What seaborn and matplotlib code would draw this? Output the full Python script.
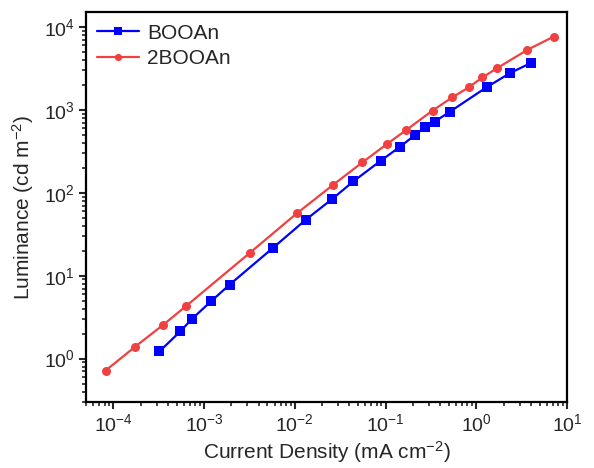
import matplotlib
matplotlib.use("Agg")
import matplotlib.pyplot as plt
import seaborn as sns
import pandas as pd
import numpy as np
from matplotlib.ticker import LogLocator, FuncFormatter, NullFormatter

boo_j = [3.22e-4, 5.5e-4, 7.3e-4, 1.19e-3, 1.91e-3, 5.8e-3, 1.33e-2, 2.6e-2, 4.42e-2,
         8.86e-2, 0.145, 0.214, 0.275, 0.349, 0.515, 1.31, 2.37, 4.0]
boo_l = [1.22, 2.14, 2.99, 4.89, 7.78, 21.8, 47.5, 84.4, 137,
         243, 359, 501, 621, 720, 950, 1877, 2775, 3660]
tboo_j = [8.2e-5, 1.75e-4, 3.54e-4, 6.4e-4, 3.19e-3, 1.05e-2, 2.66e-2, 5.56e-2, 0.103,
          0.170, 0.330, 0.542, 0.822, 1.17, 1.68, 3.65, 7.13]
tboo_l = [0.716, 1.40, 2.55, 4.34, 18.8, 56.2, 125, 232, 384,
          571, 978, 1405, 1855, 2450, 3150, 5260, 7610]
series = ["BOOAn", "2BOOAn"]

df = pd.concat([
    pd.DataFrame({"j": boo_j, "L": boo_l, "s": series[0]}),
    pd.DataFrame({"j": tboo_j, "L": tboo_l, "s": series[1]}),
], ignore_index=True)

sns.set_style("ticks")
plt.rcParams['font.family'] = ['Liberation Sans', 'DejaVu Sans']
plt.rcParams['mathtext.fontset'] = 'custom'
plt.rcParams['mathtext.rm'] = 'Liberation Sans'
plt.rcParams['mathtext.it'] = 'Liberation Sans'
plt.rcParams['mathtext.bf'] = 'Liberation Sans:bold'
plt.rcParams['mathtext.default'] = 'rm'

fig = plt.figure(figsize=(5.94, 4.68), dpi=100)
ax = fig.add_axes([0.1448, 0.141, 0.8097, 0.833])

palette = {"BOOAn": "#0000FF", "2BOOAn": "#F04040"}
markers = {"BOOAn": "s", "2BOOAn": "o"}
sns.lineplot(data=df, x="j", y="L", hue="s", style="s", palette=palette,
             markers=markers, dashes=False, sort=False, estimator=None,
             linewidth=1.6, markersize=6.5, markeredgewidth=0, ax=ax)

ax.set_xscale("log")
ax.set_yscale("log")
ax.set_xlim(5e-5, 10)
ax.set_ylim(0.3, 1.5e4)

def fmt(v, pos):
    e = int(round(np.log10(v)))
    return r"$\mathregular{10^{%d}}$" % e

for axis in (ax.xaxis, ax.yaxis):
    axis.set_major_locator(LogLocator(base=10, numticks=20))
    axis.set_minor_locator(LogLocator(base=10, subs=np.arange(2, 10), numticks=20))
    axis.set_major_formatter(FuncFormatter(fmt))
    axis.set_minor_formatter(NullFormatter())

ax.tick_params(which="major", direction="out", length=5, width=1.5, labelsize=14,
               top=False, right=False, pad=3)
ax.tick_params(which="minor", direction="out", length=3, width=1.2, top=False, right=False)
for sp in ax.spines.values():
    sp.set_linewidth(1.6)
    sp.set_color("black")

ax.set_xlabel(r"Current Density (mA cm$^{\mathregular{-2}}$)", fontsize=15, labelpad=3)
ax.set_ylabel(r"Luminance (cd m$^{\mathregular{-2}}$)", fontsize=15, labelpad=6)

leg = ax.legend(title=None, loc="upper left", frameon=False, fontsize=15,
                handlelength=2.0, borderaxespad=0.25, borderpad=0.3,
                labelspacing=0.3, handletextpad=0.4, markerscale=0.8)

fig.savefig("out.png", dpi=100)
